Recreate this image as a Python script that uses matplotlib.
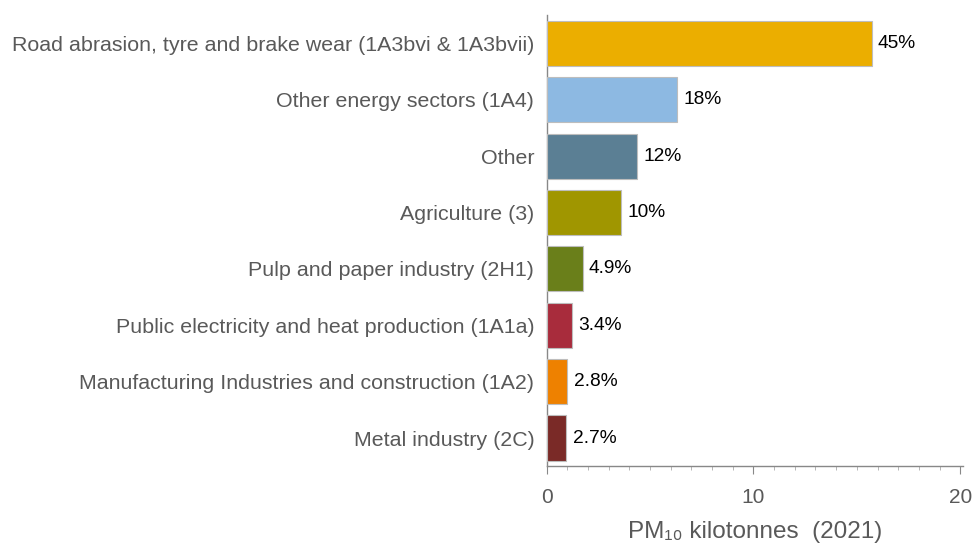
import matplotlib.pyplot as plt
from matplotlib.ticker import MultipleLocator

plt.rcParams['font.family'] = ['Liberation Sans', 'DejaVu Sans']

categories = [
    "Road abrasion, tyre and brake wear (1A3bvi & 1A3bvii)",
    "Other energy sectors (1A4)",
    "Other",
    "Agriculture (3)",
    "Pulp and paper industry (2H1)",
    "Public electricity and heat production (1A1a)",
    "Manufacturing Industries and construction (1A2)",
    "Metal industry (2C)",
]
values = [15.72, 6.30, 4.36, 3.58, 1.74, 1.23, 1.0, 0.95]
shares = ["45%", "18%", "12%", "10%", "4.9%", "3.4%", "2.8%", "2.7%"]
colors = ["#EBAE00", "#8DB9E2", "#5B7F94", "#A09600",
          "#6A7F1A", "#A82C3C", "#EE8100", "#7A2A27"]

gray = "#595959"

fig = plt.figure(figsize=(9.73, 5.44), dpi=100)
ax = fig.add_axes([0.562, 0.143, 0.428, 0.829])

ypos = range(len(categories))
ax.barh(ypos, values, height=0.8, color=colors, edgecolor="#bdbdbd",
        linewidth=0.8, zorder=3)
for y, v, s in zip(ypos, values, shares):
    ax.text(v + 0.3, y, s, va="center", ha="left", fontsize=13.8, color="black")

ax.set_yticks(list(ypos))
ax.set_yticklabels(categories, fontsize=15.4, color=gray)
ax.set_ylim(len(categories) - 0.5, -0.5)
ax.set_xlim(0, 20.15)
ax.xaxis.set_major_locator(MultipleLocator(10))
ax.xaxis.set_minor_locator(MultipleLocator(1))
ax.tick_params(axis="y", length=0, pad=9)
ax.tick_params(axis="x", which="major", length=6, color="#888888",
               labelsize=15, labelcolor=gray, pad=10)
ax.tick_params(axis="x", which="minor", length=3, color="#aaaaaa")

for side in ["top", "right"]:
    ax.spines[side].set_visible(False)
for side in ["left", "bottom"]:
    ax.spines[side].set_color("#888888")
    ax.spines[side].set_linewidth(1.0)

ax.set_xlabel("PM₁₀ kilotonnes  (2021)", fontsize=17.5, color=gray, labelpad=10)

plt.savefig("out.png", dpi=100)
plt.close()
